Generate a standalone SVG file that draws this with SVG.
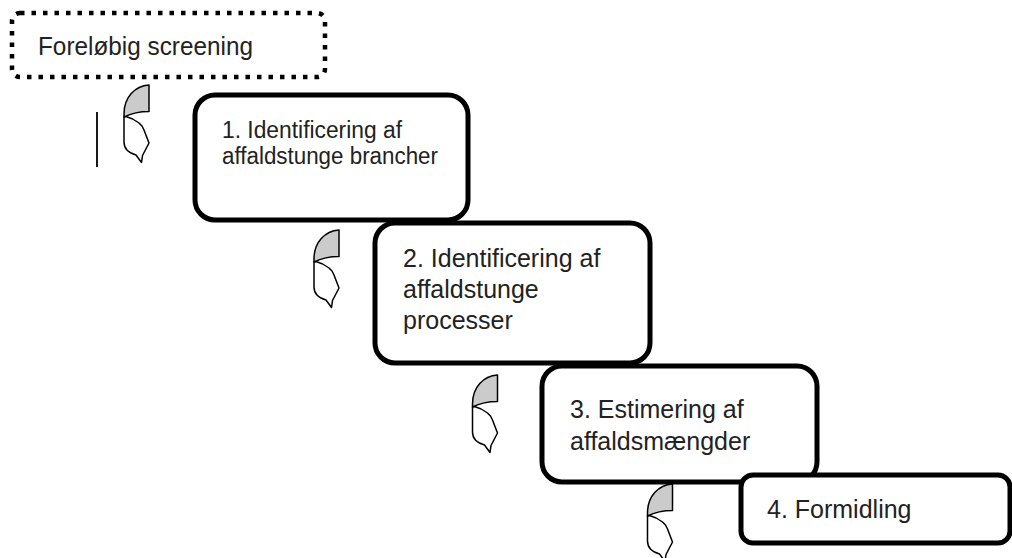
<svg xmlns="http://www.w3.org/2000/svg" xmlns:xlink="http://www.w3.org/1999/xlink" width="1012" height="558" viewBox="0 0 1012 558">
<style>
.box{fill:#fff;stroke:#000;stroke-width:5}
.dot{fill:#fff;stroke:#000;stroke-width:4.5;stroke-dasharray:4.5 7}
.t{font-family:"Liberation Sans",Arial,sans-serif;font-size:25px;fill:#222}
.t1{font-family:"Liberation Sans",Arial,sans-serif;font-size:23px;fill:#222}
.ag{fill:#cbcbcb;stroke:#000;stroke-width:1.5;stroke-linejoin:round}
.aw{fill:#fff;stroke:#000;stroke-width:1.5;stroke-linejoin:round}
</style>
<defs>
<g id="carrow">
<path class="aw" d="M -25,32 L -25,57 C -25,64 -20,68 -13,70 L -7.5,77.5 L -6.5,70.5 L 0,58 L -5,45 L -7,41 L -10,38 C -14,35 -19,32.5 -23,31.5 Z"/>
<path class="ag" d="M 0,0 C -14,1 -25,12 -25,29 L -25,32 C -18,28.5 -9,26.5 0,26.5 Z"/>
</g>
</defs>
<g id="connectors">
<use xlink:href="#carrow" href="#carrow" transform="translate(149,85)"/>
<use xlink:href="#carrow" href="#carrow" transform="translate(339,230)"/>
<use xlink:href="#carrow" href="#carrow" transform="translate(497.5,375)"/>
<use xlink:href="#carrow" href="#carrow" transform="translate(672.5,484)"/>
<line x1="97" y1="112" x2="97" y2="167" stroke="#000" stroke-width="1.8"/>
</g>
<g id="screening">
<rect class="dot" x="12" y="13" width="313" height="64" rx="8"/>
<text class="t" x="38" y="55" textLength="215" lengthAdjust="spacingAndGlyphs">Foreløbig screening</text>
</g>
<g id="step1">
<rect class="box" x="195" y="95" width="273" height="125" rx="20"/>
<text class="t1" x="222" y="138" textLength="180" lengthAdjust="spacingAndGlyphs">1. Identificering af</text>
<text class="t1" x="222" y="164" textLength="216" lengthAdjust="spacingAndGlyphs">affaldstunge brancher</text>
</g>
<g id="step2">
<rect class="box" x="375" y="223" width="275" height="140" rx="20"/>
<text class="t" x="403" y="267">2. Identificering af</text>
<text class="t" x="403" y="298">affaldstunge</text>
<text class="t" x="403" y="329">processer</text>
</g>
<g id="step3">
<rect class="box" x="542" y="366" width="275" height="116" rx="20"/>
<text class="t" x="570" y="418">3. Estimering af</text>
<text class="t" x="570" y="450">affaldsmængder</text>
</g>
<g id="step4">
<rect class="box" x="741" y="475" width="269" height="68" rx="12"/>
<text class="t" x="767" y="518">4. Formidling</text>
</g>
</svg>
